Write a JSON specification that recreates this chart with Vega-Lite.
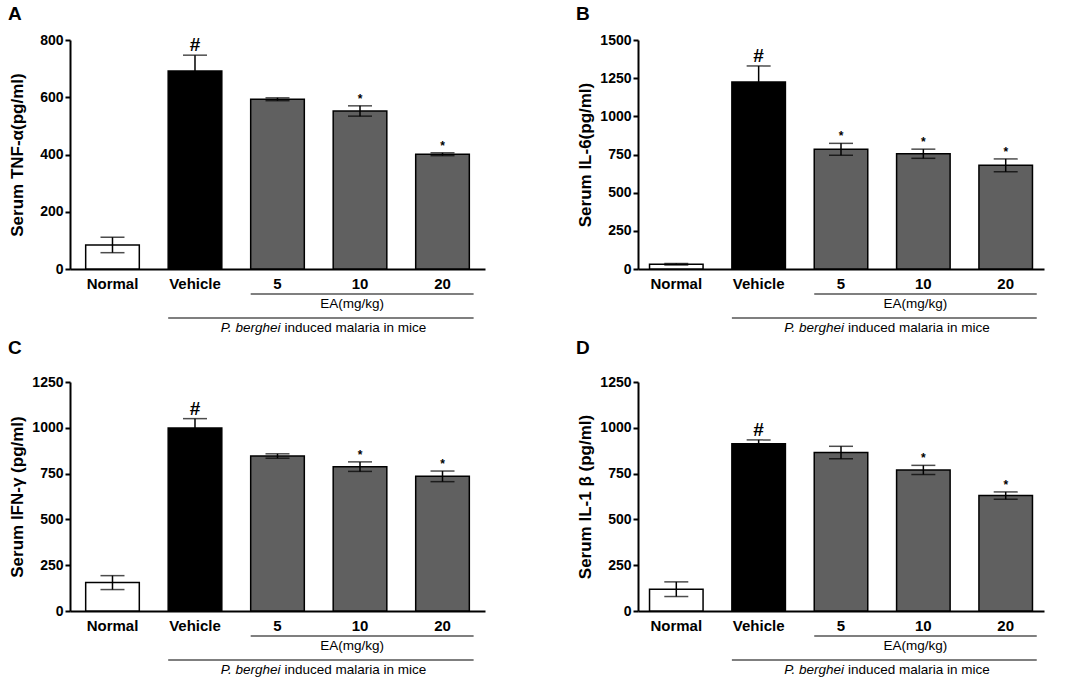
{
  "$schema": "https://vega.github.io/schema/vega-lite/v6.json",
  "padding": {"left": 8, "top": 5, "right": 5, "bottom": 0},
  "background": "white",
  "datasets": {
    "cytokines": [
      {"panel": "A", "group": "Normal", "value": 84, "err": 27, "sig": ""},
      {"panel": "A", "group": "Vehicle", "value": 692, "err": 55, "sig": "#"},
      {"panel": "A", "group": "5", "value": 593, "err": 5, "sig": ""},
      {"panel": "A", "group": "10", "value": 552, "err": 18, "sig": "*"},
      {"panel": "A", "group": "20", "value": 401, "err": 5, "sig": "*"},
      {"panel": "B", "group": "Normal", "value": 31, "err": 5, "sig": ""},
      {"panel": "B", "group": "Vehicle", "value": 1225, "err": 105, "sig": "#"},
      {"panel": "B", "group": "5", "value": 784, "err": 39, "sig": "*"},
      {"panel": "B", "group": "10", "value": 755, "err": 30, "sig": "*"},
      {"panel": "B", "group": "20", "value": 679, "err": 42, "sig": "*"},
      {"panel": "C", "group": "Normal", "value": 155, "err": 38, "sig": ""},
      {"panel": "C", "group": "Vehicle", "value": 999, "err": 51, "sig": "#"},
      {"panel": "C", "group": "5", "value": 846, "err": 12, "sig": ""},
      {"panel": "C", "group": "10", "value": 788, "err": 26, "sig": "*"},
      {"panel": "C", "group": "20", "value": 735, "err": 29, "sig": "*"},
      {"panel": "D", "group": "Normal", "value": 119, "err": 40, "sig": ""},
      {"panel": "D", "group": "Vehicle", "value": 913, "err": 21, "sig": "#"},
      {"panel": "D", "group": "5", "value": 865, "err": 34, "sig": ""},
      {"panel": "D", "group": "10", "value": 770, "err": 25, "sig": "*"},
      {"panel": "D", "group": "20", "value": 630, "err": 20, "sig": "*"}
    ],
    "brackets": [
      {"level": "1", "from": "5", "to": "20", "at": "10", "italic": "", "plain": "EA(mg/kg)"},
      {"level": "2", "from": "Vehicle", "to": "20", "at": "5", "italic": "P. berghei", "plain": "induced malaria in mice"}
    ]
  },
  "config": {
    "font": "Liberation Sans",
    "view": {"stroke": null},
    "axis": {
      "labelFont": "Liberation Sans", "labelFontWeight": "bold", "labelColor": "black",
      "titleFont": "Liberation Sans", "titleFontWeight": "bold", "titleColor": "black",
      "domainColor": "black", "domainWidth": 2, "tickColor": "black", "tickWidth": 2, "grid": false
    },
    "axisX": {"ticks": false, "labelAngle": 0, "labelFontSize": 15, "labelPadding": 7},
    "axisY": {"tickSize": 5, "labelFontSize": 14, "labelPadding": 2, "titleFontSize": 17, "format": "d",
              "labelOverlap": false, "minExtent": 40, "maxExtent": 40, "titlePadding": 4},
    "title": {"anchor": "start", "frame": "bounds", "fontSize": 19, "fontWeight": "bold",
              "font": "Liberation Sans", "color": "black", "offset": 9},
    "text": {"font": "Liberation Sans", "color": "black"}
  },
  "spacing": 4,
  "vconcat": [
    {
      "spacing": 91,
      "hconcat": [
        {
          "spacing": 2,
          "vconcat": [
            {
              "title": "A",
              "width": 415, "height": 229,
              "data": {"name": "cytokines"},
              "transform": [{"filter": "datum.panel === 'A'"}],
              "encoding": {
                "x": {"field": "group", "type": "nominal", "title": null,
                      "scale": {"domain": ["Normal", "Vehicle", "5", "10", "20"], "paddingInner": 0.35, "paddingOuter": 0.19}}
              },
              "layer": [
                {
                  "mark": {"type": "bar", "stroke": "black", "strokeWidth": 1.5},
                  "encoding": {
                    "y": {"field": "value", "type": "quantitative", "title": "Serum TNF-α(pg/ml)",
                          "scale": {"domain": [0, 800], "nice": false}, "axis": {"values": [0, 200, 400, 600, 800]}},
                    "fill": {"field": "group", "type": "nominal", "legend": null,
                             "scale": {"domain": ["Normal", "Vehicle", "5", "10", "20"], "range": ["white", "black", "#606060", "#606060", "#606060"]}}
                  }
                },
                {
                  "mark": {"type": "errorbar", "ticks": true, "color": "black", "thickness": 1.5, "size": 24},
                  "encoding": {
                    "y": {"field": "value", "type": "quantitative", "title": "Serum TNF-α(pg/ml)", "axis": {"values": [0, 200, 400, 600, 800]}},
                    "yError": {"field": "err"}
                  }
                },
                {
                  "transform": [{"filter": "datum.sig === '#'"}, {"fold": ["value", "err"], "as": ["part", "amount"]}],
                  "mark": {"type": "text", "baseline": "bottom", "fontWeight": "bold", "fontSize": 19},
                  "encoding": {
                    "y": {"aggregate": "sum", "field": "amount", "type": "quantitative", "title": "Serum TNF-α(pg/ml)", "axis": {"values": [0, 200, 400, 600, 800]}},
                    "text": {"field": "sig"}
                  }
                },
                {
                  "transform": [{"filter": "datum.sig === '*'"}, {"fold": ["value", "err"], "as": ["part", "amount"]}],
                  "mark": {"type": "text", "baseline": "bottom", "fontWeight": "bold", "fontSize": 12},
                  "encoding": {
                    "y": {"aggregate": "sum", "field": "amount", "type": "quantitative", "title": "Serum TNF-α(pg/ml)", "axis": {"values": [0, 200, 400, 600, 800]}},
                    "text": {"field": "sig"}
                  }
                }
              ]
            },
            {
              "width": 415, "height": 24,
              "data": {"name": "brackets"},
              "encoding": {
                "y": {"field": "level", "type": "ordinal", "axis": null, "scale": {"type": "point", "padding": 0}}
              },
              "layer": [
                {
                  "mark": {"type": "rule", "color": "black", "strokeWidth": 1.2},
                  "encoding": {
                    "x": {"field": "from", "type": "nominal", "bandPosition": 0, "axis": null,
                          "scale": {"type": "band", "domain": ["Normal", "Vehicle", "5", "10", "20"], "paddingInner": 0.35, "paddingOuter": 0.19}},
                    "x2": {"field": "to", "bandPosition": 1.08}
                  }
                },
                {
                  "transform": [{"filter": "datum.level === '1'"}],
                  "mark": {"type": "text", "align": "center", "baseline": "top", "dx": -8, "dy": 3, "fontSize": 13.5},
                  "encoding": {"x": {"field": "at", "type": "nominal", "axis": null}, "text": {"field": "plain"}}
                },
                {
                  "transform": [{"filter": "datum.level === '2'"}],
                  "mark": {"type": "text", "align": "right", "baseline": "top", "dx": 3, "dy": 3, "fontSize": 13.5, "fontStyle": "italic"},
                  "encoding": {"x": {"field": "at", "type": "nominal", "axis": null}, "text": {"field": "italic"}}
                },
                {
                  "transform": [{"filter": "datum.level === '2'"}],
                  "mark": {"type": "text", "align": "left", "baseline": "top", "dx": 7, "dy": 3, "fontSize": 13.5},
                  "encoding": {"x": {"field": "at", "type": "nominal", "axis": null}, "text": {"field": "plain"}}
                }
              ]
            }
          ]
        },
        {
          "spacing": 2,
          "vconcat": [
            {
              "title": "B",
              "width": 406, "height": 229,
              "data": {"name": "cytokines"},
              "transform": [{"filter": "datum.panel === 'B'"}],
              "encoding": {
                "x": {"field": "group", "type": "nominal", "title": null,
                      "scale": {"domain": ["Normal", "Vehicle", "5", "10", "20"], "paddingInner": 0.35, "paddingOuter": 0.14}}
              },
              "layer": [
                {
                  "mark": {"type": "bar", "stroke": "black", "strokeWidth": 1.5},
                  "encoding": {
                    "y": {"field": "value", "type": "quantitative", "title": "Serum IL-6(pg/ml)",
                          "scale": {"domain": [0, 1500], "nice": false}, "axis": {"values": [0, 250, 500, 750, 1000, 1250, 1500]}},
                    "fill": {"field": "group", "type": "nominal", "legend": null,
                             "scale": {"domain": ["Normal", "Vehicle", "5", "10", "20"], "range": ["white", "black", "#606060", "#606060", "#606060"]}}
                  }
                },
                {
                  "mark": {"type": "errorbar", "ticks": true, "color": "black", "thickness": 1.5, "size": 24},
                  "encoding": {
                    "y": {"field": "value", "type": "quantitative", "title": "Serum IL-6(pg/ml)", "axis": {"values": [0, 250, 500, 750, 1000, 1250, 1500]}},
                    "yError": {"field": "err"}
                  }
                },
                {
                  "transform": [{"filter": "datum.sig === '#'"}, {"fold": ["value", "err"], "as": ["part", "amount"]}],
                  "mark": {"type": "text", "baseline": "bottom", "fontWeight": "bold", "fontSize": 19},
                  "encoding": {
                    "y": {"aggregate": "sum", "field": "amount", "type": "quantitative", "title": "Serum IL-6(pg/ml)", "axis": {"values": [0, 250, 500, 750, 1000, 1250, 1500]}},
                    "text": {"field": "sig"}
                  }
                },
                {
                  "transform": [{"filter": "datum.sig === '*'"}, {"fold": ["value", "err"], "as": ["part", "amount"]}],
                  "mark": {"type": "text", "baseline": "bottom", "fontWeight": "bold", "fontSize": 12},
                  "encoding": {
                    "y": {"aggregate": "sum", "field": "amount", "type": "quantitative", "title": "Serum IL-6(pg/ml)", "axis": {"values": [0, 250, 500, 750, 1000, 1250, 1500]}},
                    "text": {"field": "sig"}
                  }
                }
              ]
            },
            {
              "width": 406, "height": 24,
              "data": {"name": "brackets"},
              "encoding": {
                "y": {"field": "level", "type": "ordinal", "axis": null, "scale": {"type": "point", "padding": 0}}
              },
              "layer": [
                {
                  "mark": {"type": "rule", "color": "black", "strokeWidth": 1.2},
                  "encoding": {
                    "x": {"field": "from", "type": "nominal", "bandPosition": 0, "axis": null,
                          "scale": {"type": "band", "domain": ["Normal", "Vehicle", "5", "10", "20"], "paddingInner": 0.35, "paddingOuter": 0.14}},
                    "x2": {"field": "to", "bandPosition": 1.08}
                  }
                },
                {
                  "transform": [{"filter": "datum.level === '1'"}],
                  "mark": {"type": "text", "align": "center", "baseline": "top", "dx": -8, "dy": 3, "fontSize": 13.5},
                  "encoding": {"x": {"field": "at", "type": "nominal", "axis": null}, "text": {"field": "plain"}}
                },
                {
                  "transform": [{"filter": "datum.level === '2'"}],
                  "mark": {"type": "text", "align": "right", "baseline": "top", "dx": 3, "dy": 3, "fontSize": 13.5, "fontStyle": "italic"},
                  "encoding": {"x": {"field": "at", "type": "nominal", "axis": null}, "text": {"field": "italic"}}
                },
                {
                  "transform": [{"filter": "datum.level === '2'"}],
                  "mark": {"type": "text", "align": "left", "baseline": "top", "dx": 7, "dy": 3, "fontSize": 13.5},
                  "encoding": {"x": {"field": "at", "type": "nominal", "axis": null}, "text": {"field": "plain"}}
                }
              ]
            }
          ]
        }
      ]
    },
    {
      "spacing": 91,
      "hconcat": [
        {
          "spacing": 2,
          "vconcat": [
            {
              "title": {"text": "C", "offset": 17},
              "width": 415, "height": 229,
              "data": {"name": "cytokines"},
              "transform": [{"filter": "datum.panel === 'C'"}],
              "encoding": {
                "x": {"field": "group", "type": "nominal", "title": null,
                      "scale": {"domain": ["Normal", "Vehicle", "5", "10", "20"], "paddingInner": 0.35, "paddingOuter": 0.19}}
              },
              "layer": [
                {
                  "mark": {"type": "bar", "stroke": "black", "strokeWidth": 1.5},
                  "encoding": {
                    "y": {"field": "value", "type": "quantitative", "title": "Serum IFN-γ (pg/ml)",
                          "scale": {"domain": [0, 1250], "nice": false}, "axis": {"values": [0, 250, 500, 750, 1000, 1250]}},
                    "fill": {"field": "group", "type": "nominal", "legend": null,
                             "scale": {"domain": ["Normal", "Vehicle", "5", "10", "20"], "range": ["white", "black", "#606060", "#606060", "#606060"]}}
                  }
                },
                {
                  "mark": {"type": "errorbar", "ticks": true, "color": "black", "thickness": 1.5, "size": 24},
                  "encoding": {
                    "y": {"field": "value", "type": "quantitative", "title": "Serum IFN-γ (pg/ml)", "axis": {"values": [0, 250, 500, 750, 1000, 1250]}},
                    "yError": {"field": "err"}
                  }
                },
                {
                  "transform": [{"filter": "datum.sig === '#'"}, {"fold": ["value", "err"], "as": ["part", "amount"]}],
                  "mark": {"type": "text", "baseline": "bottom", "fontWeight": "bold", "fontSize": 19},
                  "encoding": {
                    "y": {"aggregate": "sum", "field": "amount", "type": "quantitative", "title": "Serum IFN-γ (pg/ml)", "axis": {"values": [0, 250, 500, 750, 1000, 1250]}},
                    "text": {"field": "sig"}
                  }
                },
                {
                  "transform": [{"filter": "datum.sig === '*'"}, {"fold": ["value", "err"], "as": ["part", "amount"]}],
                  "mark": {"type": "text", "baseline": "bottom", "fontWeight": "bold", "fontSize": 12},
                  "encoding": {
                    "y": {"aggregate": "sum", "field": "amount", "type": "quantitative", "title": "Serum IFN-γ (pg/ml)", "axis": {"values": [0, 250, 500, 750, 1000, 1250]}},
                    "text": {"field": "sig"}
                  }
                }
              ]
            },
            {
              "width": 415, "height": 24,
              "data": {"name": "brackets"},
              "encoding": {
                "y": {"field": "level", "type": "ordinal", "axis": null, "scale": {"type": "point", "padding": 0}}
              },
              "layer": [
                {
                  "mark": {"type": "rule", "color": "black", "strokeWidth": 1.2},
                  "encoding": {
                    "x": {"field": "from", "type": "nominal", "bandPosition": 0, "axis": null,
                          "scale": {"type": "band", "domain": ["Normal", "Vehicle", "5", "10", "20"], "paddingInner": 0.35, "paddingOuter": 0.19}},
                    "x2": {"field": "to", "bandPosition": 1.08}
                  }
                },
                {
                  "transform": [{"filter": "datum.level === '1'"}],
                  "mark": {"type": "text", "align": "center", "baseline": "top", "dx": -8, "dy": 3, "fontSize": 13.5},
                  "encoding": {"x": {"field": "at", "type": "nominal", "axis": null}, "text": {"field": "plain"}}
                },
                {
                  "transform": [{"filter": "datum.level === '2'"}],
                  "mark": {"type": "text", "align": "right", "baseline": "top", "dx": 3, "dy": 3, "fontSize": 13.5, "fontStyle": "italic"},
                  "encoding": {"x": {"field": "at", "type": "nominal", "axis": null}, "text": {"field": "italic"}}
                },
                {
                  "transform": [{"filter": "datum.level === '2'"}],
                  "mark": {"type": "text", "align": "left", "baseline": "top", "dx": 7, "dy": 3, "fontSize": 13.5},
                  "encoding": {"x": {"field": "at", "type": "nominal", "axis": null}, "text": {"field": "plain"}}
                }
              ]
            }
          ]
        },
        {
          "spacing": 2,
          "vconcat": [
            {
              "title": {"text": "D", "offset": 17},
              "width": 406, "height": 229,
              "data": {"name": "cytokines"},
              "transform": [{"filter": "datum.panel === 'D'"}],
              "encoding": {
                "x": {"field": "group", "type": "nominal", "title": null,
                      "scale": {"domain": ["Normal", "Vehicle", "5", "10", "20"], "paddingInner": 0.35, "paddingOuter": 0.14}}
              },
              "layer": [
                {
                  "mark": {"type": "bar", "stroke": "black", "strokeWidth": 1.5},
                  "encoding": {
                    "y": {"field": "value", "type": "quantitative", "title": "Serum IL-1 β (pg/ml)",
                          "scale": {"domain": [0, 1250], "nice": false}, "axis": {"values": [0, 250, 500, 750, 1000, 1250]}},
                    "fill": {"field": "group", "type": "nominal", "legend": null,
                             "scale": {"domain": ["Normal", "Vehicle", "5", "10", "20"], "range": ["white", "black", "#606060", "#606060", "#606060"]}}
                  }
                },
                {
                  "mark": {"type": "errorbar", "ticks": true, "color": "black", "thickness": 1.5, "size": 24},
                  "encoding": {
                    "y": {"field": "value", "type": "quantitative", "title": "Serum IL-1 β (pg/ml)", "axis": {"values": [0, 250, 500, 750, 1000, 1250]}},
                    "yError": {"field": "err"}
                  }
                },
                {
                  "transform": [{"filter": "datum.sig === '#'"}, {"fold": ["value", "err"], "as": ["part", "amount"]}],
                  "mark": {"type": "text", "baseline": "bottom", "fontWeight": "bold", "fontSize": 19},
                  "encoding": {
                    "y": {"aggregate": "sum", "field": "amount", "type": "quantitative", "title": "Serum IL-1 β (pg/ml)", "axis": {"values": [0, 250, 500, 750, 1000, 1250]}},
                    "text": {"field": "sig"}
                  }
                },
                {
                  "transform": [{"filter": "datum.sig === '*'"}, {"fold": ["value", "err"], "as": ["part", "amount"]}],
                  "mark": {"type": "text", "baseline": "bottom", "fontWeight": "bold", "fontSize": 12},
                  "encoding": {
                    "y": {"aggregate": "sum", "field": "amount", "type": "quantitative", "title": "Serum IL-1 β (pg/ml)", "axis": {"values": [0, 250, 500, 750, 1000, 1250]}},
                    "text": {"field": "sig"}
                  }
                }
              ]
            },
            {
              "width": 406, "height": 24,
              "data": {"name": "brackets"},
              "encoding": {
                "y": {"field": "level", "type": "ordinal", "axis": null, "scale": {"type": "point", "padding": 0}}
              },
              "layer": [
                {
                  "mark": {"type": "rule", "color": "black", "strokeWidth": 1.2},
                  "encoding": {
                    "x": {"field": "from", "type": "nominal", "bandPosition": 0, "axis": null,
                          "scale": {"type": "band", "domain": ["Normal", "Vehicle", "5", "10", "20"], "paddingInner": 0.35, "paddingOuter": 0.14}},
                    "x2": {"field": "to", "bandPosition": 1.08}
                  }
                },
                {
                  "transform": [{"filter": "datum.level === '1'"}],
                  "mark": {"type": "text", "align": "center", "baseline": "top", "dx": -8, "dy": 3, "fontSize": 13.5},
                  "encoding": {"x": {"field": "at", "type": "nominal", "axis": null}, "text": {"field": "plain"}}
                },
                {
                  "transform": [{"filter": "datum.level === '2'"}],
                  "mark": {"type": "text", "align": "right", "baseline": "top", "dx": 3, "dy": 3, "fontSize": 13.5, "fontStyle": "italic"},
                  "encoding": {"x": {"field": "at", "type": "nominal", "axis": null}, "text": {"field": "italic"}}
                },
                {
                  "transform": [{"filter": "datum.level === '2'"}],
                  "mark": {"type": "text", "align": "left", "baseline": "top", "dx": 7, "dy": 3, "fontSize": 13.5},
                  "encoding": {"x": {"field": "at", "type": "nominal", "axis": null}, "text": {"field": "plain"}}
                }
              ]
            }
          ]
        }
      ]
    }
  ]
}
